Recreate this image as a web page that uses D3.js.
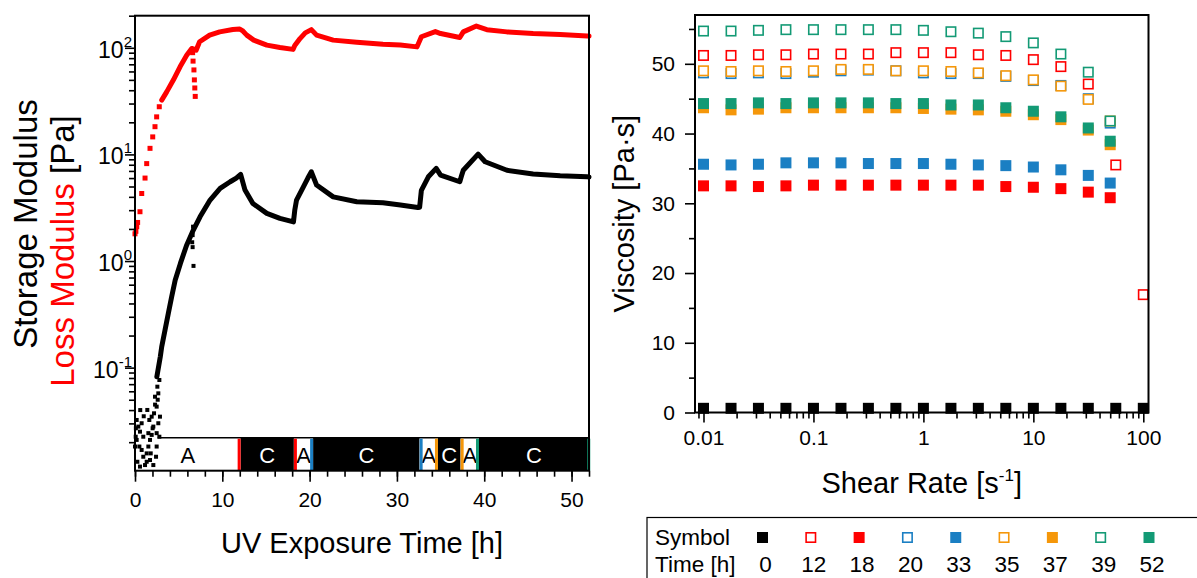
<!DOCTYPE html>
<html><head><meta charset="utf-8">
<script src="https://cdn.jsdelivr.net/npm/d3@7/dist/d3.min.js"></script>
<style>
body{margin:0;background:#fff}
svg{display:block}
text{font-family:"Liberation Sans",Arial,Helvetica,sans-serif}
</style>
</head><body>
<svg id="c" width="1197" height="578"></svg>
<script>
// ---------------- DATA: left panel (UV exposure) ----------------
const storageTime = [2.5, 2.9, 3.06, 3.44, 3.82, 4.2, 4.6, 5.2, 5.9, 6.68, 7.45, 8.6, 9.75, 10.9, 11.6, 12.1, 12.6, 13.5, 15.1, 16.6, 18.15, 18.3, 18.5, 19.3, 19.8, 20.2, 20.8, 22.7, 25.4, 28.4, 30.4, 32.4, 32.6, 32.8, 33.6, 34.5, 35.0, 37.2, 37.4, 37.6, 39.3, 40.1, 42.6, 45.6, 48.7, 51.8, 52];
const storageValue = [0.082, 0.127, 0.157, 0.225, 0.323, 0.463, 0.66, 0.95, 1.4, 1.95, 2.6, 3.73, 4.8, 5.54, 6.0, 6.5, 4.63, 3.47, 2.8, 2.51, 2.33, 3.0, 3.73, 4.98, 6.0, 6.87, 5.16, 4.0, 3.6, 3.52, 3.35, 3.18, 3.2, 4.6, 6.17, 7.4, 6.4, 5.54, 6.3, 7.1, 10.07, 8.53, 7.1, 6.54, 6.3, 6.17, 6.15];
// scattered early G' points and outliers
const storageScatterTime = [0.19, 0.38, 0.57, 0.76, 0.95, 0.19, 0.5, 0.76, 0.95, 1.34, 0.27, 0.57, 1.15, 1.53, 1.72, 1.91, 2.1, 1.64, 1.41, 1.91, 2.18, 2.48, 2.29, 2.02, 2.48, 2.67, 2.86, 2.79, 1.72, 2.1, 1.34, 2.48, 0.0, 0.08, 1.53, 1.8, 2.41, 2.67, 2.56, 2.79, 0.1, 0.6, 1.0, 2.3, 2.6, 6.55, 6.6, 6.65, 6.7, 6.6];
const storageScatterValue = [0.0323, 0.028, 0.0251, 0.0301, 0.0225, 0.021, 0.0182, 0.0169, 0.0146, 0.0131, 0.0131, 0.0118, 0.0122, 0.0182, 0.021, 0.0234, 0.028, 0.0323, 0.0401, 0.0347, 0.0373, 0.0431, 0.0534, 0.027, 0.0243, 0.0301, 0.0347, 0.0225, 0.0136, 0.0122, 0.0157, 0.0182, 0.0182, 0.0225, 0.0243, 0.0157, 0.0146, 0.0574, 0.0663, 0.0766, 0.027, 0.04, 0.035, 0.045, 0.05, 1.5, 1.75, 2.1, 0.9, 1.35];
const lossTime = [3.06, 3.63, 4.39, 5.16, 5.92, 6.5, 7.0, 7.4, 8.55, 9.7, 11.2, 12.0, 12.3, 12.8, 13.6, 15.1, 16.6, 18.1, 18.3, 18.9, 19.5, 20.2, 20.8, 22.7, 25.4, 28.4, 30.4, 32.3, 32.8, 34.4, 35.0, 37.2, 37.6, 39.1, 40.3, 42.6, 45.6, 48.7, 51.8, 52];
const lossValue = [32.3, 38.6, 49.8, 66.4, 85, 98.6, 95, 114, 131.5, 141, 148.6, 150, 145, 131.5, 118, 106, 100.7, 96.6, 105, 122, 138, 148, 131.5, 118, 113, 108, 106, 102, 127, 142, 136, 125, 141, 160, 148, 141, 136, 133, 129, 129];
// sparse early G'' points and the dip near 6.7 h
const lossDotTime = [0, 0.1, 0.2, 0.3, 0.57, 0.77, 1.15, 1.34, 1.72, 2.03, 2.29, 2.48, 2.78, 6.6, 6.65, 6.75, 6.8, 6.85, 6.9, 6.6];
const lossDotValue = [1.8, 1.9, 2.1, 2.3, 2.9, 4.3, 6.0, 8.2, 11.4, 14.6, 18.2, 22.5, 28, 90, 75, 62, 50, 42, 35, 95];
// illumination phases (A = UV on, C = dark)
const phaseLabel = ["A", "C", "A", "C", "A", "C", "A", "C"];
const phaseStart = [0, 12.1, 18.2, 20.4, 32.6, 34.7, 37.3, 39.4];
const phaseEnd   = [12.1, 18.2, 20.4, 32.6, 34.7, 37.3, 39.4, 52];
const sampleMarkTime = [12.1, 18.2, 20.4, 32.6, 34.7, 37.3, 39.4, 51.8];
const sampleMarkSeries = [1, 2, 3, 4, 5, 6, 7, 8];
const xTicksLeft = [0, 10, 20, 30, 40, 50];
const yExponents = [-1, 0, 1, 2];

// ---------------- DATA: right panel (viscosity) ----------------
const shearRates = [0.01, 0.0178, 0.0316, 0.0562, 0.1, 0.178, 0.316, 0.562, 1, 1.78, 3.16, 5.62, 10, 17.8, 31.6, 56.2, 100];
const shearRatesB = [0.01, 0.0178, 0.0316, 0.0562, 0.1, 0.178, 0.316, 0.562, 1, 1.78, 3.16, 5.62, 10, 17.8, 31.6, 50];
const visc0  = [0.6, 0.6, 0.6, 0.6, 0.6, 0.6, 0.6, 0.6, 0.6, 0.6, 0.6, 0.6, 0.6, 0.6, 0.6, 0.6, 0.6];
const visc12 = [51.2, 51.2, 51.3, 51.3, 51.4, 51.4, 51.4, 51.6, 51.6, 51.6, 51.3, 51.2, 50.6, 49.6, 47.1, 35.5, 16.9];
const visc18 = [32.5, 32.5, 32.4, 32.5, 32.6, 32.6, 32.6, 32.6, 32.6, 32.6, 32.6, 32.4, 32.3, 32.1, 31.6, 30.8];
const visc20 = [48.7, 48.6, 48.7, 48.6, 48.8, 49.0, 49.1, 49.0, 48.7, 48.6, 48.6, 48.2, 47.6, 46.9, 45.0, 41.5];
const visc33 = [35.6, 35.5, 35.6, 35.8, 35.8, 35.8, 35.7, 35.7, 35.7, 35.6, 35.5, 35.4, 35.2, 34.8, 34.0, 32.9];
const visc35 = [49.0, 48.9, 49.0, 48.9, 49.0, 49.2, 49.2, 49.0, 49.0, 48.9, 48.7, 48.3, 47.7, 46.8, 44.9, 41.8];
const visc37 = [43.7, 43.4, 43.5, 43.7, 43.7, 43.7, 43.7, 43.7, 43.6, 43.5, 43.4, 43.2, 42.7, 42.0, 40.5, 38.4];
const visc39 = [54.7, 54.7, 54.8, 54.9, 54.9, 54.9, 54.9, 54.9, 54.8, 54.6, 54.4, 53.9, 53.0, 51.4, 48.8, 41.8];
const visc52 = [44.3, 44.3, 44.4, 44.3, 44.4, 44.4, 44.4, 44.3, 44.3, 44.1, 44.1, 43.7, 43.2, 42.4, 40.8, 38.9];
const seriesTimes = ["0", "12", "18", "20", "33", "35", "37", "39", "52"];
const yTicksRight = [0, 10, 20, 30, 40, 50];
const xTicksRight = [0.01, 0.1, 1, 10, 100];
const xTickLabelsRight = ["0.01", "0.1", "1", "10", "100"];

// ---------------- STYLE ----------------
const RED = "#ff0000", BLUE = "#1b7fc3", ORANGE = "#f5970a", GREEN = "#139a75";
const seriesColor = ["#000", RED, RED, BLUE, BLUE, ORANGE, ORANGE, GREEN, GREEN];
const seriesFilled = [true, false, true, false, true, false, true, false, true];
const seriesX = [shearRates, shearRates, shearRatesB, shearRatesB, shearRatesB, shearRatesB, shearRatesB, shearRatesB, shearRatesB];
const seriesY = [visc0, visc12, visc18, visc20, visc33, visc35, visc37, visc39, visc52];
const FONT = '"Liberation Sans",Arial,sans-serif';

const svg = d3.select("#c");
svg.append("rect").attr("width", 1197).attr("height", 578).attr("fill", "#fff");

// ================= LEFT PANEL =================
const L = {x0: 135, x1: 589, y0: 15.7, y1: 470.7};
const xL = d3.scaleLinear().domain([0, 52]).range([L.x0, L.x1]);
const yL = d3.scaleLog().domain([0.0108, 200]).range([L.y1, L.y0]);
const gL = svg.append("g");

// phase band
const bandTop = L.y1 - 33;
const band = gL.append("g");
phaseLabel.forEach((p, i) => {
  const xa = xL(phaseStart[i]), xb = xL(phaseEnd[i]);
  band.append("rect").attr("x", xa).attr("y", bandTop).attr("width", xb - xa).attr("height", L.y1 - bandTop)
    .attr("fill", p === "A" ? "#fff" : "#000");
  band.append("text").attr("x", (xa + xb) / 2).attr("y", bandTop + 25).attr("text-anchor", "middle")
    .attr("font-size", 22).attr("fill", p === "A" ? "#000" : "#fff").text(p);
});
band.append("line").attr("x1", xL(2.6)).attr("x2", L.x1).attr("y1", bandTop).attr("y2", bandTop)
  .attr("stroke", "#000").attr("stroke-width", 1.5);
sampleMarkTime.forEach((t, i) => {
  const c = seriesColor[sampleMarkSeries[i]];
  const x = xL(t);
  const atAEnd = (i % 2 === 0);
  band.append("rect").attr("x", atAEnd ? x - 3 : x).attr("y", bandTop + 1).attr("width", 3)
    .attr("height", L.y1 - bandTop - 1).attr("fill", c);
});

// data
const lineL = d3.line().x(d => xL(d[0])).y(d => yL(d[1]));
gL.append("path").attr("d", lineL(lossTime.map((t, i) => [t, lossValue[i]])))
  .attr("fill", "none").attr("stroke", RED).attr("stroke-width", 5).attr("stroke-linejoin", "round").attr("stroke-linecap", "round");
gL.append("path").attr("d", lineL(storageTime.map((t, i) => [t, storageValue[i]])))
  .attr("fill", "none").attr("stroke", "#000").attr("stroke-width", 5).attr("stroke-linejoin", "round").attr("stroke-linecap", "round");
gL.selectAll(".ld").data(lossDotTime.map((t, i) => [t, lossDotValue[i]])).join("rect")
  .attr("x", d => xL(d[0]) - 2.5).attr("y", d => yL(d[1]) - 2.5).attr("width", 5).attr("height", 5).attr("fill", RED);
gL.selectAll(".sd").data(storageScatterTime.map((t, i) => [t, storageScatterValue[i]])).join("rect")
  .attr("x", d => xL(d[0]) - 2).attr("y", d => yL(d[1]) - 2).attr("width", 4).attr("height", 4).attr("fill", "#000");

// axes
const xMinorL = d3.range(0, 53, 2);
gL.append("g").attr("transform", `translate(0,${L.y1})`)
  .call(d3.axisBottom(xL).tickValues(xMinorL).tickSize(6).tickFormat(""))
  .call(g => g.select(".domain").remove()).selectAll("line").attr("stroke-width", 1.6);
gL.append("g").attr("transform", `translate(0,${L.y1})`)
  .call(d3.axisBottom(xL).tickValues(xTicksLeft).tickSize(11).tickPadding(10).tickFormat(d3.format("d")))
  .call(g => g.select(".domain").remove())
  .call(g => g.selectAll("line").attr("stroke-width", 1.6))
  .call(g => g.selectAll("text").attr("font-size", 21).attr("fill", "#000").attr("font-family", FONT));

const yMinorL = [];
[-2, -1, 0, 1, 2].forEach(e => { for (let k = 2; k <= 9; k++) { const v = k * Math.pow(10, e); if (v >= 0.0108 && v <= 200.01) yMinorL.push(v); } });
gL.append("g").attr("transform", `translate(${L.x0},0)`)
  .call(d3.axisLeft(yL).tickValues(yMinorL).tickSize(6).tickFormat(""))
  .call(g => g.select(".domain").remove()).selectAll("line").attr("stroke-width", 1.6);
gL.append("g").attr("transform", `translate(${L.x0},0)`)
  .call(d3.axisLeft(yL).tickValues(yExponents.map(e => Math.pow(10, e))).tickSize(10).tickFormat(""))
  .call(g => g.select(".domain").remove()).selectAll("line").attr("stroke-width", 1.6);
yExponents.forEach(e => {
  const t = gL.append("text").attr("x", 132).attr("y", yL(Math.pow(10, e)) + 10).attr("text-anchor", "end").attr("font-size", 23);
  t.append("tspan").text("10");
  t.append("tspan").attr("font-size", 15).attr("dy", -11).text(e < 0 ? "-" + Math.abs(e) : String(e));
});
// frame
gL.append("rect").attr("x", L.x0).attr("y", L.y0).attr("width", L.x1 - L.x0).attr("height", L.y1 - L.y0)
  .attr("fill", "none").attr("stroke", "#000").attr("stroke-width", 2);

// titles
gL.append("text").attr("transform", `translate(37,224) rotate(-90)`).attr("text-anchor", "middle").attr("font-size", 33)
  .attr("fill", "#000").text("Storage Modulus");
const t2 = gL.append("text").attr("transform", `translate(74,251) rotate(-90)`).attr("text-anchor", "middle").attr("font-size", 33);
t2.append("tspan").attr("fill", RED).text("Loss Modulus");
t2.append("tspan").attr("fill", "#000").text(" [Pa]");
gL.append("text").attr("x", (L.x0 + L.x1) / 2).attr("y", 553).attr("text-anchor", "middle").attr("font-size", 29).text("UV Exposure Time [h]");

// ================= RIGHT PANEL =================
const R = {x0: 695, x1: 1148.5, y0: 15, y1: 412.5};
const xR = d3.scaleLog().domain([0.00837, 111.5]).range([R.x0, R.x1]);
const yR = d3.scaleLinear().domain([0, 57]).range([R.y1, R.y0]);
const gR = svg.append("g");

const xMinorR = [];
[-3, -2, -1, 0, 1].forEach(e => { for (let k = 2; k <= 9; k++) { const v = k * Math.pow(10, e); if (v >= 0.00837 && v <= 111.5) xMinorR.push(v); } });
gR.append("g").attr("transform", `translate(0,${R.y1})`)
  .call(d3.axisBottom(xR).tickValues(xMinorR).tickSize(6).tickFormat(""))
  .call(g => g.select(".domain").remove()).selectAll("line").attr("stroke-width", 1.6);
gR.append("g").attr("transform", `translate(0,${R.y1})`)
  .call(d3.axisBottom(xR).tickValues(xTicksRight).tickSize(10).tickPadding(8).tickFormat((d, i) => xTickLabelsRight[i]))
  .call(g => g.select(".domain").remove())
  .call(g => g.selectAll("line").attr("stroke-width", 1.6))
  .call(g => g.selectAll("text").attr("font-size", 21).attr("fill", "#000").attr("font-family", FONT));
gR.append("g").attr("transform", `translate(${R.x0},0)`)
  .call(d3.axisLeft(yR).tickValues([5, 15, 25, 35, 45, 55]).tickSize(6).tickFormat(""))
  .call(g => g.select(".domain").remove()).selectAll("line").attr("stroke-width", 1.6);
gR.append("g").attr("transform", `translate(${R.x0},0)`)
  .call(d3.axisLeft(yR).tickValues(yTicksRight).tickSize(10).tickPadding(10).tickFormat(d3.format("d")))
  .call(g => g.select(".domain").remove())
  .call(g => g.selectAll("line").attr("stroke-width", 1.6))
  .call(g => g.selectAll("text").attr("font-size", 21).attr("fill", "#000").attr("font-family", FONT));

// markers
const FS = 11, OS = 9.4;
seriesY.forEach((vals, s) => {
  const xs = seriesX[s];
  const g = gR.append("g");
  vals.forEach((v, i) => {
    const cx = xR(xs[i]), cy = yR(v);
    if (seriesFilled[s]) {
      g.append("rect").attr("x", cx - FS / 2).attr("y", cy - FS / 2).attr("width", FS).attr("height", FS).attr("fill", seriesColor[s]);
    } else {
      g.append("rect").attr("x", cx - OS / 2).attr("y", cy - OS / 2).attr("width", OS).attr("height", OS)
        .attr("fill", "#fff").attr("stroke", seriesColor[s]).attr("stroke-width", 1.6);
    }
  });
});

gR.append("rect").attr("x", R.x0).attr("y", R.y0).attr("width", R.x1 - R.x0).attr("height", R.y1 - R.y0)
  .attr("fill", "none").attr("stroke", "#000").attr("stroke-width", 2);

gR.append("text").attr("transform", `translate(634,${(R.y0 + R.y1) / 2}) rotate(-90)`).attr("text-anchor", "middle")
  .attr("font-size", 29).text("Viscosity [Pa·s]");
const tx = gR.append("text").attr("x", (R.x0 + R.x1) / 2).attr("y", 493).attr("text-anchor", "middle").attr("font-size", 29);
tx.append("tspan").text("Shear Rate [s");
tx.append("tspan").attr("font-size", 17).attr("dy", -12).text("-1");
tx.append("tspan").attr("dy", 12).text("]");

// ================= LEGEND TABLE =================
const lg = svg.append("g");
lg.append("rect").attr("x", 647).attr("y", 517.5).attr("width", 600).attr("height", 80)
  .attr("fill", "#fff").attr("stroke", "#000").attr("stroke-width", 1.2);
lg.append("text").attr("x", 655).attr("y", 545).attr("font-size", 22.5).text("Symbol");
lg.append("text").attr("x", 655).attr("y", 572).attr("font-size", 22.5).text("Time [h]");
const xLeg = d3.scalePoint().domain(seriesTimes).range([762.5, 1149]);
seriesTimes.forEach((lab, s) => {
  const cx = xLeg(lab), cy = 537.5;
  if (seriesFilled[s]) {
    lg.append("rect").attr("x", cx - FS / 2).attr("y", cy - FS / 2).attr("width", FS).attr("height", FS).attr("fill", seriesColor[s]);
  } else {
    lg.append("rect").attr("x", cx - OS / 2).attr("y", cy - OS / 2).attr("width", OS).attr("height", OS)
      .attr("fill", "#fff").attr("stroke", seriesColor[s]).attr("stroke-width", 1.6);
  }
  lg.append("text").attr("x", cx + 3).attr("y", 572).attr("text-anchor", "middle").attr("font-size", 22.5).text(lab);
});
</script>
</body></html>
